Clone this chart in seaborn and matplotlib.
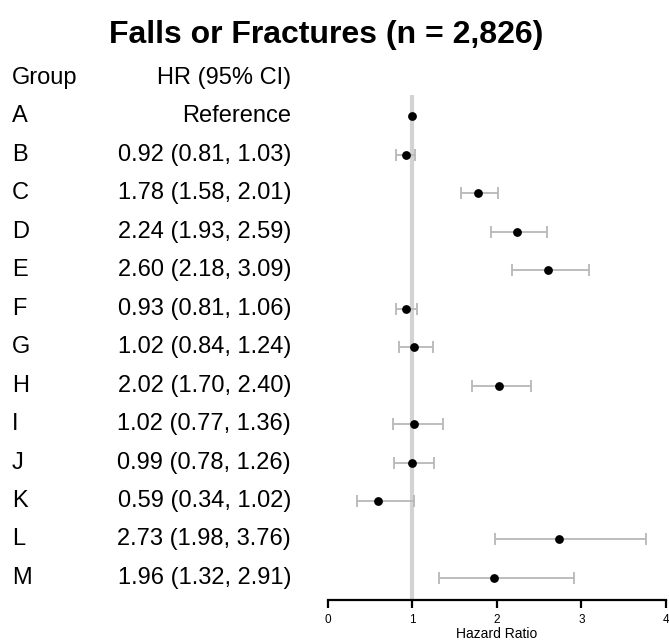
import numpy as np
import pandas as pd
import matplotlib
matplotlib.use("Agg")
import matplotlib.pyplot as plt
import matplotlib.transforms as mtrans
from matplotlib import font_manager
import seaborn as sns

# datos
groups = ['A', 'B', 'C', 'D', 'E', 'F', 'G', 'H', 'I', 'J', 'K', 'L', 'M']
hr = [1.00, 0.92, 1.78, 2.24, 2.60, 0.93, 1.02, 2.02, 1.02, 0.99, 0.59, 2.73, 1.96]
lower = [np.nan, 0.81, 1.58, 1.93, 2.18, 0.81, 0.84, 1.70, 0.77, 0.78, 0.34, 1.98, 1.32]
upper = [np.nan, 1.03, 2.01, 2.59, 3.09, 1.06, 1.24, 2.40, 1.36, 1.26, 1.02, 3.76, 2.91]
labels = ['Reference', '0.92 (0.81, 1.03)', '1.78 (1.58, 2.01)', '2.24 (1.93, 2.59)',
          '2.60 (2.18, 3.09)', '0.93 (0.81, 1.06)', '1.02 (0.84, 1.24)', '2.02 (1.70, 2.40)',
          '1.02 (0.77, 1.36)', '0.99 (0.78, 1.26)', '0.59 (0.34, 1.02)', '2.73 (1.98, 3.76)',
          '1.96 (1.32, 2.91)']
xticks = [0, 1, 2, 3, 4]

df = pd.DataFrame({'group': groups, 'hr': hr, 'lo': lower, 'hi': upper, 'label': labels})
df['row'] = np.arange(len(df))

sns.set_style('white')
plt.rcParams['font.family'] = ['Liberation Sans', 'DejaVu Sans']
plt.rcParams['text.color'] = 'black'

# fuente estrecha para el título si existe
nombres = {f.name for f in font_manager.fontManager.ttflist}
titulo_font = 'Liberation Sans Narrow' if 'Liberation Sans Narrow' in nombres else 'Liberation Sans'

fig = plt.figure(figsize=(6.69, 6.43), dpi=100)
ax = fig.add_axes([0.490, 0.067, 0.5055, 0.785])

ax.axvline(1, color='#d3d3d3', lw=3, zorder=0)
ci = df.dropna()
ax.errorbar(ci['hr'], ci['row'], xerr=[ci['hr'] - ci['lo'], ci['hi'] - ci['hr']],
            fmt='none', ecolor='#b8b8b8', elinewidth=1.3, capsize=4, capthick=1.3, zorder=1)
sns.scatterplot(data=df, x='hr', y='row', color='black', s=40, edgecolor='black',
                linewidth=0, zorder=3, ax=ax)

ax.set_xlim(0, 4)
ax.set_ylim(12.57, -0.545)
ax.set_xticks(xticks)
ax.set_xticklabels([str(t) for t in xticks], fontsize=8.5, color='black')
ax.set_yticks([])
ax.set_ylabel('')
ax.set_xlabel('Hazard Ratio', fontsize=10, labelpad=1, color='black')
for s in ['top', 'right', 'left']:
    ax.spines[s].set_visible(False)
ax.spines['bottom'].set_color('black')
ax.spines['bottom'].set_linewidth(1.6)
ax.tick_params(axis='x', bottom=True, length=6, width=1.6, color='black', pad=4)

tr = mtrans.blended_transform_factory(fig.transFigure, ax.transData)
ax.text(0.018, -1, 'Group', transform=tr, fontsize=17, va='center', ha='left')
ax.text(0.435, -1, 'HR (95% CI)', transform=tr, fontsize=17, va='center', ha='right')
for _, r in df.iterrows():
    ax.text(0.018, r['row'], r['group'], transform=tr, fontsize=17, va='center', ha='left')
    ax.text(0.435, r['row'], r['label'], transform=tr, fontsize=17, va='center', ha='right')

fig.text(0.488, 0.946, 'Falls or Fractures (n = 2,826)', fontsize=23, fontweight='bold',
         family=titulo_font, ha='center', va='center')

fig.savefig('out.png', dpi=100)
